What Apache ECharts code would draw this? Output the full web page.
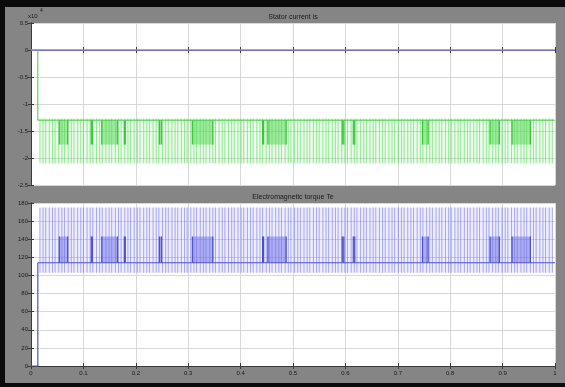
<!DOCTYPE html>
<html><head><meta charset="utf-8">
<script src="https://cdn.jsdelivr.net/npm/echarts@6/dist/echarts.min.js"></script>
<style>
html,body{margin:0;padding:0;background:#0b0b0b;width:565px;height:387px;overflow:hidden}
#c{position:absolute;left:5px;top:7px;width:560px;height:376px;background:#858585}
</style>
</head><body><div id="c"></div>
<script>
// ---- tick labels ----
const xTicks = ['0','0.1','0.2','0.3','0.4','0.5','0.6','0.7','0.8','0.9','1'];
const topYTicks = ['-2.5','-2','-1.5','-1','-0.5','0','0.5'];
const botYTicks = ['0','20','40','60','80','100','120','140','160','180'];
const titleTop = 'Stator current is';
const titleBot = 'Electromagnetic torque Te';

// ---- switching instants (ms) read from the stripes ----
const switchTimesMs = [17,23,28,35,41,46,53,59,64,71,77,82,89,95,100,107,113,118,125,131,136,143,149,154,161,167,172,179,185,190,197,203,208,215,221,226,233,239,244,251,257,262,269,275,280,287,293,298,305,311,316,323,329,334,341,347,352,359,365,370,377,383,388,395,401,406,413,419,424,431,437,442,449,455,460,467,473,478,485,491,496,503,509,514,521,527,532,539,545,550,557,563,568,575,581,586,593,599,604,611,617,622,629,635,640,647,653,658,665,671,676,683,689,694,701,707,712,719,725,730,737,743,748,755,761,766,773,779,784,791,797,802,809,815,820,827,833,838,845,851,856,863,869,874,881,887,892,899,905,910,917,923,928,935,941,946,953,959,964,971,977,982,989,995];

// ---- dense burst windows (s) ----
const burstWindows = [[0.054,0.070],[0.115,0.117],[0.135,0.165],[0.178,0.180],[0.245,0.249],[0.308,0.347],[0.442,0.444],[0.452,0.487],[0.594,0.597],[0.615,0.618],[0.747,0.758],[0.876,0.894],[0.918,0.953]];

// ---- stator current (x10^4) ----
const isRefLine = [[0,0],[1,0]];
const isStartup = [[0,0],[0.013,0],[0.013,-1.3],[1,-1.3]];
const isBase = -1.3, isSwitchHigh = -1.27, isSwitchLow = -2.1, isBurstLevel = -1.75;

// ---- electromagnetic torque ----
const teStartup = [[0,0],[0.013,0],[0.013,114],[1,114]];
const teBase = 114, teSwitchHigh = 175, teSwitchLow = 103, teBurstLevel = 143;

function spikeData(low, high){ return switchTimesMs.map(t => [t/1000, low, high]); }
function burstData(base, mid){ return burstWindows.map(w => [w[0], w[1], base, mid]); }
function bandData(low, high){ return [[switchTimesMs[0]/1000, switchTimesMs[switchTimesMs.length-1]/1000, low, high]]; }

function spikeItem(color){
  return function(params, api){
    const p1 = api.coord([api.value(0), api.value(1)]);
    const p2 = api.coord([api.value(0), api.value(2)]);
    return {type:'line', shape:{x1:p1[0],y1:p1[1],x2:p2[0],y2:p2[1]}, style:{stroke:color, lineWidth:1}};
  };
}
function rectItem(fill){
  return function(params, api){
    const a = api.coord([api.value(0), api.value(3)]);
    const b = api.coord([api.value(1), api.value(2)]);
    return {type:'rect', shape:{x:Math.min(a[0],b[0]), y:Math.min(a[1],b[1]), width:Math.abs(b[0]-a[0]), height:Math.abs(b[1]-a[1])}, style:{fill:fill}};
  };
}
function burstItem(fill, edge){
  return function(params, api){
    const a = api.coord([api.value(0), api.value(3)]);
    const b = api.coord([api.value(1), api.value(2)]);
    const x0 = Math.min(a[0], b[0]), x1 = Math.max(a[0], b[0]);
    const y0 = Math.min(a[1], b[1]), y1 = Math.max(a[1], b[1]);
    return {type:'group', children:[
      {type:'rect', shape:{x:x0, y:y0, width:Math.max(1, x1-x0), height:y1-y0}, style:{fill:fill}},
      {type:'line', shape:{x1:x0, y1:y0, x2:x0, y2:y1}, style:{stroke:edge, lineWidth:1.2}},
      {type:'line', shape:{x1:x1, y1:y0, x2:x1, y2:y1}, style:{stroke:edge, lineWidth:1.2}}
    ]};
  };
}

const font = 'Liberation Sans, Arial, sans-serif';
const axisCol = '#3a3a3a';
function xAx(grid, pos, labels, main){
  return {type:'value', gridIndex:grid, position:pos, min:0, max:1, interval:0.1,
    axisLine:{show:true, lineStyle:{color:axisCol, width:1}},
    axisTick:{show:true, inside:true, length:3, lineStyle:{color:axisCol}},
    axisLabel:{show:labels, margin:4, fontSize:6, color:'#1a1a1a', fontFamily:font,
      formatter: v => xTicks[Math.round(v*10)]},
    splitLine:{show:main, lineStyle:{color:'#d8d8d8', width:1}}};
}
function yAx(grid, pos, min, max, itv, ticks, labels, main){
  return {type:'value', gridIndex:grid, position:pos, min:min, max:max, interval:itv,
    axisLine:{show:true, lineStyle:{color:axisCol, width:1}},
    axisTick:{show:true, inside:true, length:3, lineStyle:{color:axisCol}},
    axisLabel:{show:labels, margin:3, fontSize:6, color:'#1a1a1a', fontFamily:font,
      formatter: v => ticks[Math.round((v-min)/itv)]},
    splitLine:{show:main, lineStyle:{color:'#d8d8d8', width:1}}};
}

const chart = echarts.init(document.getElementById('c'), null, {renderer:'canvas'});
chart.setOption({
  animation:false,
  backgroundColor:'#858585',
  grid:[
    {left:26, top:16, width:524, height:162, backgroundColor:'#ffffff', show:true, borderWidth:0},
    {left:26, top:196, width:524, height:163, backgroundColor:'#ffffff', show:true, borderWidth:0}
  ],
  xAxis:[xAx(0,'bottom',false,true), xAx(0,'top',false,false), xAx(1,'bottom',true,true), xAx(1,'top',false,false)],
  yAxis:[yAx(0,'left',-2.5,0.5,0.5,topYTicks,true,true), yAx(0,'right',-2.5,0.5,0.5,topYTicks,false,false),
         yAx(1,'left',0,180,20,botYTicks,true,true), yAx(1,'right',0,180,20,botYTicks,false,false)],
  graphic:[
    {type:'text', x:288, y:10, style:{text:titleTop, font:'7px '+font, fill:'#1a1a1a', textAlign:'center', textVerticalAlign:'middle'}},
    {type:'text', x:288, y:190, style:{text:titleBot, font:'7px '+font, fill:'#1a1a1a', textAlign:'center', textVerticalAlign:'middle'}},
    {type:'text', x:23, y:9, style:{text:'x10', font:'6px '+font, fill:'#1a1a1a', textVerticalAlign:'middle'}},
    {type:'text', x:35, y:4, style:{text:'4', font:'5px '+font, fill:'#1a1a1a', textVerticalAlign:'middle'}}
  ],
  series:[
    // top: stator current
    {type:'custom', xAxisIndex:0, yAxisIndex:0, data:bandData(isSwitchLow,isSwitchHigh), renderItem:rectItem('rgba(120,230,120,0.16)'), z:1, clip:true},
    {type:'custom', xAxisIndex:0, yAxisIndex:0, data:spikeData(isSwitchLow,isSwitchHigh), renderItem:spikeItem('rgba(70,215,70,0.5)'), z:2, clip:true},
    {type:'custom', xAxisIndex:0, yAxisIndex:0, data:burstData(isBase,isBurstLevel), renderItem:burstItem('rgba(80,215,80,0.5)', 'rgba(40,190,40,0.85)'), z:3, clip:true},
    {type:'line', xAxisIndex:0, yAxisIndex:0, data:isStartup, showSymbol:false, lineStyle:{color:'#44cc44', width:1}, z:4},
    {type:'line', xAxisIndex:0, yAxisIndex:0, data:isRefLine, showSymbol:false, lineStyle:{color:'#8585ea', width:1.5}, z:5},
    // bottom: torque
    {type:'custom', xAxisIndex:2, yAxisIndex:2, data:bandData(teSwitchLow,teSwitchHigh), renderItem:rectItem('rgba(140,140,240,0.16)'), z:1, clip:true},
    {type:'custom', xAxisIndex:2, yAxisIndex:2, data:spikeData(teSwitchLow,teSwitchHigh), renderItem:spikeItem('rgba(110,110,235,0.55)'), z:2, clip:true},
    {type:'custom', xAxisIndex:2, yAxisIndex:2, data:burstData(teBase,teBurstLevel), renderItem:burstItem('rgba(110,110,230,0.5)', 'rgba(60,60,200,0.85)'), z:3, clip:true},
    {type:'line', xAxisIndex:2, yAxisIndex:2, data:teStartup, showSymbol:false, lineStyle:{color:'#5050d2', width:1.2}, z:4}
  ]
});
</script>
</body></html>
